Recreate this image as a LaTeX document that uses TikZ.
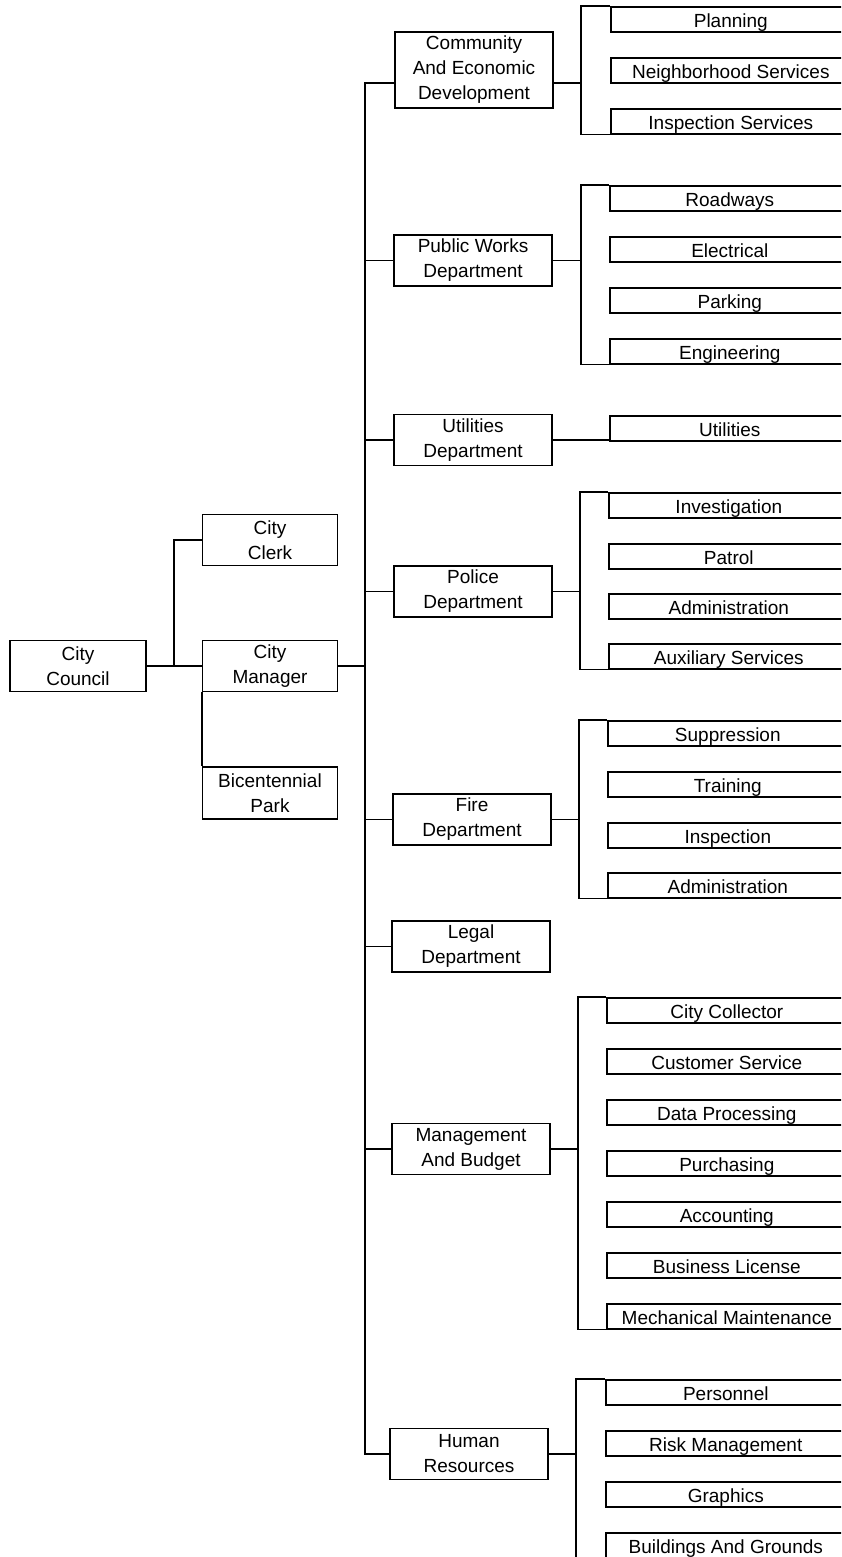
\documentclass[tikz,border=0pt]{standalone}
\usepackage{fontspec}
\setmainfont{Liberation Sans}
\usepackage{tikz}
\usetikzlibrary{positioning}

\begin{document}
\begin{tikzpicture}[x=1pt, y=-1pt, line width=1.6pt, font=\fontsize{19}{25}\selectfont]
    % Stili
    \tikzstyle{topbox}=[rectangle, draw=black, align=center, minimum width=135pt, minimum height=51pt, inner sep=0pt]
    \tikzstyle{deptbox}=[topbox, minimum width=158pt]
    \tikzstyle{leafbox}=[rectangle, draw=black, anchor=north west, minimum width=240pt, minimum height=25pt, inner sep=0pt, text height=17pt, text depth=0pt]

    \clip (0,0) rectangle (841,1557);
    \useasboundingbox (0,0) rectangle (841,1557);

    % Consiglio e ufficio del manager
    \node (council) [topbox, minimum width=136pt] at (78,666) {City\\Council};
    \node (clerk) [topbox] at (270,540) {City\\Clerk};
    \node (mgr) [topbox] at (270,666) {City\\Manager};
    \node (park) [topbox, minimum height=52pt] at (270,793) {Bicentennial\\Park};

    % Dipartimenti
    \node (ced) [deptbox, minimum height=76pt] at (474,70) {Community\\And Economic\\Development};
    \node (pwd) [deptbox] at (473,260.5) {Public Works\\Department};
    \node (udept) [deptbox] at (473,440) {Utilities\\Department};
    \node (pol) [deptbox] at (473,591.5) {Police\\Department};
    \node (fire) [deptbox] at (472,819.5) {Fire\\Department};
    \node (legal) [deptbox] at (471,946.5) {Legal\\Department};
    \node (mab) [deptbox] at (471,1149) {Management\\And Budget};
    \node (hr) [deptbox] at (469,1454) {Human\\Resources};

    % Sezioni
    \node (ced1) [leafbox] at (610,6) {Planning};
    \node (ced2) [leafbox] at (610,57) {Neighborhood Services};
    \node (ced3) [leafbox] at (610,108) {Inspection Services};

    \node (pw1) [leafbox] at (609,185) {Roadways};
    \node (pw2) [leafbox] at (609,236) {Electrical};
    \node (pw3) [leafbox] at (609,287) {Parking};
    \node (pw4) [leafbox] at (609,338) {Engineering};

    \node (util) [leafbox] at (609,415) {Utilities};

    \node (pol1) [leafbox] at (608,492) {Investigation};
    \node (pol2) [leafbox] at (608,543) {Patrol};
    \node (pol3) [leafbox] at (608,593) {Administration};
    \node (pol4) [leafbox] at (608,643) {Auxiliary Services};

    \node (fire1) [leafbox] at (607,720) {Suppression};
    \node (fire2) [leafbox] at (607,771) {Training};
    \node (fire3) [leafbox] at (607,822) {Inspection};
    \node (fire4) [leafbox] at (607,872) {Administration};

    \node (mab1) [leafbox] at (606,997) {City Collector};
    \node (mab2) [leafbox] at (606,1048) {Customer Service};
    \node (mab3) [leafbox] at (606,1099) {Data Processing};
    \node (mab4) [leafbox] at (606,1150) {Purchasing};
    \node (mab5) [leafbox] at (606,1201) {Accounting};
    \node (mab6) [leafbox] at (606,1252) {Business License};
    \node (mab7) [leafbox] at (606,1303) {Mechanical Maintenance};

    \node (hr1) [leafbox] at (605,1379) {Personnel};
    \node (hr2) [leafbox] at (605,1430) {Risk Management};
    \node (hr3) [leafbox] at (605,1481) {Graphics};
    \node (hr4) [leafbox] at (605,1532) {Buildings And Grounds};

    % Punti delle linee
    \coordinate (lk) at (174,0);
    \coordinate (tk) at (365,0);
    \coordinate (cedb) at (581,83);
    \coordinate (pwb) at (581,0);
    \coordinate (polb) at (580,0);
    \coordinate (fireb) at (579,0);
    \coordinate (mabb) at (578,0);
    \coordinate (hrb) at (576,0);

    % Collegamenti a sinistra
    \draw (council.east) -- (mgr.west);
    \draw (lk |- council.east) |- (clerk.west);
    \draw (mgr.south west) -- (park.north west);
    \draw (mgr.east) -- (tk |- mgr.east);

    % Linea principale
    \draw ([yshift=-13pt]ced.west) -| (tk |- hr.west) -- (hr.west);
    \draw (pwd.west) -- (tk |- pwd.west);
    \draw (udept.west) -- (tk |- udept.west);
    \draw (pol.west) -- (tk |- pol.west);
    \draw (fire.west) -- (tk |- fire.west);
    \draw (legal.west) -- (tk |- legal.west);
    \draw (mab.west) -- (tk |- mab.west);

    % Parentesi dei gruppi
    \draw ([yshift=-13pt]ced.east) -- (cedb);
    \draw (ced1.north west) -| (cedb |- ced3.south west) -- (ced3.south west);
    \draw (pwd.east) -- (pwb |- pwd.east);
    \draw (pw1.north west) -| (pwb |- pw4.south west) -- (pw4.south west);
    \draw (udept.east) -- (udept.east -| util.south west);
    \draw (pol.east) -- (polb |- pol.east);
    \draw (pol1.north west) -| (polb |- pol4.south west) -- (pol4.south west);
    \draw (fire.east) -- (fireb |- fire.east);
    \draw (fire1.north west) -| (fireb |- fire4.south west) -- (fire4.south west);
    \draw (mab.east) -- (mabb |- mab.east);
    \draw (mab1.north west) -| (mabb |- mab7.south west) -- (mab7.south west);
    \draw (hr.east) -- (hrb |- hr.east);
    \draw (hr1.north west) -| (hrb |- hr4.south west) -- (hr4.south west);

\end{tikzpicture}
\end{document}
